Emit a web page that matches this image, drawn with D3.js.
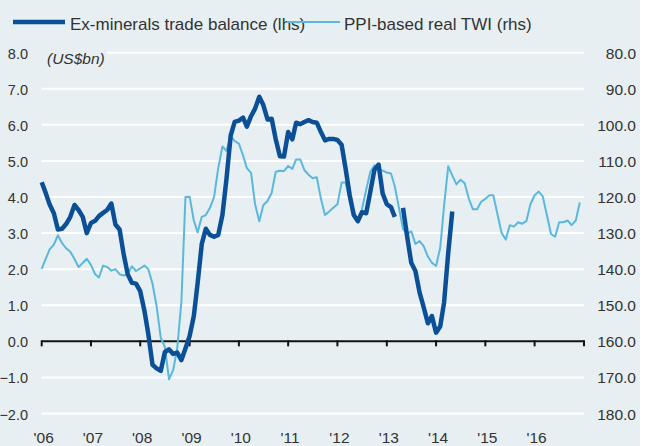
<!DOCTYPE html>
<html lang="en">
<head>
  <meta charset="UTF-8">
  <title>Trade balance vs TWI</title>
  <script src="https://cdn.jsdelivr.net/npm/d3@7"></script>
  <style>
    body { margin: 0; background: #fff; }
    text { font-family: "Liberation Sans", Arial, sans-serif; fill: #333; }
    .grid line { stroke: #fff; stroke-width: 2px; }
    .lbl { font-size: 15.5px; }
    .lbl.left { font-size: 14.5px; }
    .legend text { font-size: 17px; }
  </style>
</head>
<body>
<div class="chart"></div>
<script>
  // monthly, Jan 2006 onward (US$bn); null = series break
  const tradeBalance = [
    4.41, 4.10, 3.79, 3.55, 3.10, 3.12, 3.25, 3.45, 3.78, 3.64, 3.45, 3.00,
    3.28, 3.34, 3.47, 3.56, 3.64, 3.82, 3.24, 3.10, 2.40, 1.85, 1.62, 1.60,
    1.39, 0.85, 0.20, -0.65, -0.75, -0.82, -0.30, -0.22, -0.35, -0.31, -0.52, -0.20,
    0.15, 0.70, 1.60, 2.70, 3.12, 2.95, 2.90, 2.95, 3.50, 4.50, 5.70, 6.08,
    6.12, 6.20, 5.95, 6.24, 6.45, 6.78, 6.55, 6.15, 6.17, 5.60, 5.13, 5.12,
    5.80, 5.60, 6.06, 6.02, 6.08, 6.13, 6.08, 6.06, 5.80, 5.57, 5.61, 5.61,
    5.58, 5.45, 4.80, 4.05, 3.50, 3.33, 3.58, 3.55, 4.15, 4.75, 4.90, 4.10,
    3.80, 3.72, 3.45, null, 3.70, 2.90, 2.18, 1.95, 1.35, 0.95, 0.50, 0.70,
    0.24, 0.42, 1.07, 2.45, 3.60
  ];
  // PPI-based real TWI, monthly from Jan 2006 (inverted rhs)
  const twi = [
    139.9, 137.0, 134.5, 133.2, 130.6, 132.8, 134.2, 135.2, 137.2, 139.4, 138.3, 137.1,
    138.8, 141.4, 142.3, 139.0, 139.4, 140.4, 140.0, 141.4, 141.8, 141.2, 139.2, 140.5,
    139.8, 139.0, 140.0, 144.0, 150.2, 159.0, 161.5, 170.5, 168.0, 162.0, 149.0, 120.0,
    119.9, 126.5, 129.8, 125.5, 125.0, 123.0, 120.0, 112.0, 106.0, 107.2, 103.0, 104.5,
    105.2, 108.5, 112.0, 113.3, 122.0, 126.7, 122.3, 121.1, 118.8, 113.0, 112.7, 112.8,
    111.4, 112.2, 109.6, 109.6, 112.5, 113.8, 114.8, 114.5, 120.5, 125.0, 124.0, 123.0,
    122.0, 116.0, 116.0, 121.0, 124.2, 127.0, 123.4, 118.0, 113.0, 111.2, 112.2, 112.7,
    113.2, 113.5, 117.0, 123.0, 128.8, 130.2, 129.5, 133.0, 132.2, 133.6, 136.5, 138.2,
    139.1, 134.0, 122.5, 111.5, 114.0, 116.5, 115.2, 116.2, 120.5, 123.4, 123.4, 121.3,
    120.5, 119.5, 119.5, 124.8, 129.9, 131.8, 127.8, 128.2, 127.0, 127.4, 126.7, 122.0,
    119.5, 118.5, 119.8, 125.0, 130.2, 131.0, 127.0, 127.0, 126.5, 127.8, 126.5, 121.5
  ];
  const yearLabels = ["'06", "'07", "'08", "'09", "'10", "'11", "'12", "'13", "'14", "'15", "'16"];
  const lhsTicks = [-2, -1, 0, 1, 2, 3, 4, 5, 6, 7, 8];
  const rhsTicks = [80, 90, 100, 110, 120, 130, 140, 150, 160, 170, 180];
  const seriesNames = ['Ex-minerals trade balance (lhs)', 'PPI-based real TWI (rhs)'];

  const W = 652, H = 446;
  const dark = '#0b5096', light = '#5ab8dc';
  const start = new Date(2006, 0, 1), end = new Date(2017, 0, 1);
  const month = i => d3.timeMonth.offset(start, i);

  const svg = d3.select('.chart').append('svg').attr('width', W).attr('height', H);
  svg.append('rect').attr('width', 640).attr('height', H).attr('fill', '#e7eff2');

  const x = d3.scaleTime().domain([start, end]).range([41.7, 584]);
  const yL = d3.scaleLinear().domain([-2, 8]).range([413.5, 52.7]);
  const yR = d3.scaleLinear().domain([180, 80]).range([413.5, 52.7]);

  // gridlines
  svg.append('g').attr('class', 'grid').selectAll('line')
    .data(lhsTicks.filter(d => d !== 0)).enter().append('line')
    .attr('x1', d => d === 8 ? 107 : x.range()[0]).attr('x2', x.range()[1])
    .attr('y1', d => yL(d)).attr('y2', d => yL(d));

  // left labels
  svg.append('g').selectAll('text').data(lhsTicks).enter().append('text')
    .attr('class', 'lbl left').attr('x', 28).attr('y', d => yL(d) + 6)
    .attr('text-anchor', 'end').text(d3.format('.1f'));
  // right labels
  svg.append('g').selectAll('text').data(rhsTicks).enter().append('text')
    .attr('class', 'lbl').attr('x', 636).attr('y', d => yR(d) + 6)
    .attr('text-anchor', 'end').text(d3.format('.1f'));

  svg.append('text').attr('class', 'lbl').attr('x', 47).attr('y', 64)
    .style('font-style', 'italic').text('(US$bn)');

  // zero axis with year ticks
  svg.append('line').attr('x1', x.range()[0]).attr('x2', x.range()[1])
    .attr('y1', yL(0)).attr('y2', yL(0)).attr('stroke', '#111').attr('stroke-width', 2);
  svg.append('g').selectAll('line').data(d3.timeYear.range(start, d3.timeDay.offset(end, 1))).enter().append('line')
    .attr('x1', d => x(d)).attr('x2', d => x(d))
    .attr('y1', yL(0) - 1).attr('y2', yL(0) + 5).attr('stroke', '#111').attr('stroke-width', 2);

  svg.append('g').selectAll('text').data(yearLabels).enter().append('text')
    .attr('class', 'lbl').attr('x', (d, i) => x(new Date(2006 + i, 0, 1)) + 2).attr('y', 443)
    .attr('text-anchor', 'middle').text(d => d);

  // series
  const lineL = d3.line().defined(d => d != null).x((d, i) => x(month(i))).y(d => yL(d));
  const lineR = d3.line().x((d, i) => x(month(i))).y(d => yR(d));

  svg.append('path').datum(twi).attr('d', lineR)
    .attr('fill', 'none').attr('stroke', light).attr('stroke-width', 2).attr('stroke-linejoin', 'round');
  svg.append('path').datum(tradeBalance).attr('d', lineL)
    .attr('fill', 'none').attr('stroke', dark).attr('stroke-width', 4.5).attr('stroke-linejoin', 'round');

  // legend
  const lg = svg.append('g').attr('class', 'legend');
  lg.append('line').attr('x1', 13).attr('x2', 65).attr('y1', 22).attr('y2', 22)
    .attr('stroke', dark).attr('stroke-width', 4.5);
  lg.append('text').attr('x', 70).attr('y', 30).text(seriesNames[0]);
  lg.append('line').attr('x1', 287).attr('x2', 340).attr('y1', 22).attr('y2', 22)
    .attr('stroke', light).attr('stroke-width', 2);
  lg.append('text').attr('x', 344).attr('y', 30).text(seriesNames[1]);
</script>
</body>
</html>
